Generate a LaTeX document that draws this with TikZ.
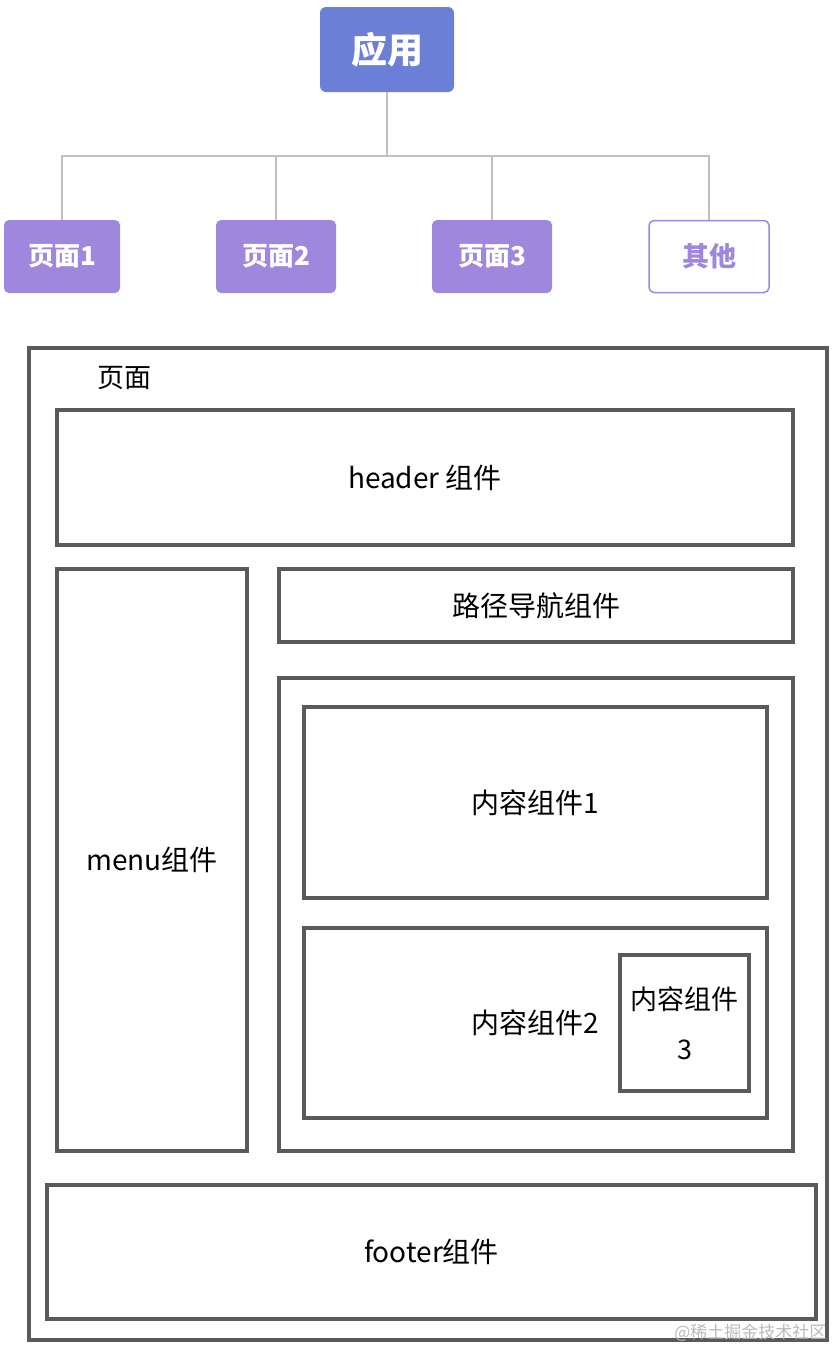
\documentclass[tikz,border=0pt]{standalone}
\usepackage{fontspec}
\setmainfont{Noto Sans CJK SC}
\usepackage{tikz}
\usetikzlibrary{positioning}

\definecolor{appblue}{RGB}{107,127,215}
\definecolor{pagepurple}{RGB}{158,135,221}
\definecolor{treegray}{RGB}{192,192,192}
\definecolor{boxgray}{RGB}{90,90,90}

\begin{document}
\begin{tikzpicture}[x=1pt, y=-1pt,
    appnode/.style={rectangle, rounded corners=6pt, fill=appblue, text=white,
        font=\fontsize{36}{42}\selectfont\bfseries, minimum width=134pt, minimum height=85pt},
    pagenode/.style={rectangle, rounded corners=5pt, fill=pagepurple, text=white,
        font=\fontsize{26}{30}\selectfont\bfseries, minimum width=118pt, minimum height=73pt},
    othernode/.style={rectangle, rounded corners=5pt, draw=pagepurple, line width=1.5pt, fill=white,
        text=pagepurple, font=\fontsize{27}{30}\selectfont\bfseries, minimum width=120pt, minimum height=72pt},
    treeline/.style={draw=treegray, line width=2pt},
    part/.style={rectangle, draw=boxgray, line width=4pt, text=black,
        font=\fontsize{28}{32}\selectfont, inner sep=0pt}]
\useasboundingbox (0,0) rectangle (837,1350);

% tree of the app
\node[appnode] (app) at (387,49.5) {应用};
\coordinate (bus) at (387,156);
\node[pagenode, minimum width=116pt] (p1) at (62,256.5) {页面1};
\node[pagenode, minimum width=120pt] (p2) at (276,256.5) {页面2};
\node[pagenode, minimum width=120pt] (p3) at (492,256.5) {页面3};
\node[othernode] (other) at (709,256.5) {其他};

\draw[treeline] (app.south) -- (bus);
\foreach \pg in {p1,p2,p3,other}
    \draw[treeline] (\pg.north) |- (bus);

% page layout
\node[part, minimum width=798pt, minimum height=992pt] (page) at (428,844) {};
\node[font=\fontsize{27}{32}\selectfont] (pagetitle) at (124,378) {页面};
\node[part, minimum width=736pt, minimum height=135pt] (header) at (425,477.5) {header 组件};
\node[part, minimum width=190pt, minimum height=582pt] (menu) at (152,860) {menu组件};
\node[part, minimum width=514pt, minimum height=73pt] (nav) at (536,605.5) {路径导航组件};
\node[part, minimum width=514pt, minimum height=473pt] (content) at (536,914.5) {};
\node[part, minimum width=463pt, minimum height=191pt] (c1) at (535.5,802.5) {内容组件1};
\node[part, minimum width=463pt, minimum height=190pt] (c2) at (535.5,1023) {内容组件2};
\node[part, minimum width=129pt, minimum height=136pt, align=center,
    font=\fontsize{27}{50}\selectfont] (c3) at (684.5,1023) {内容组件\\3};
\node[part, minimum width=769pt, minimum height=134pt] (footer) at (431.5,1252) {footer组件};

\node[text=gray!55, font=\fontsize{17}{20}\selectfont, anchor=east] (mark) at (830,1333) {@稀土掘金技术社区};
\end{tikzpicture}
\end{document}
